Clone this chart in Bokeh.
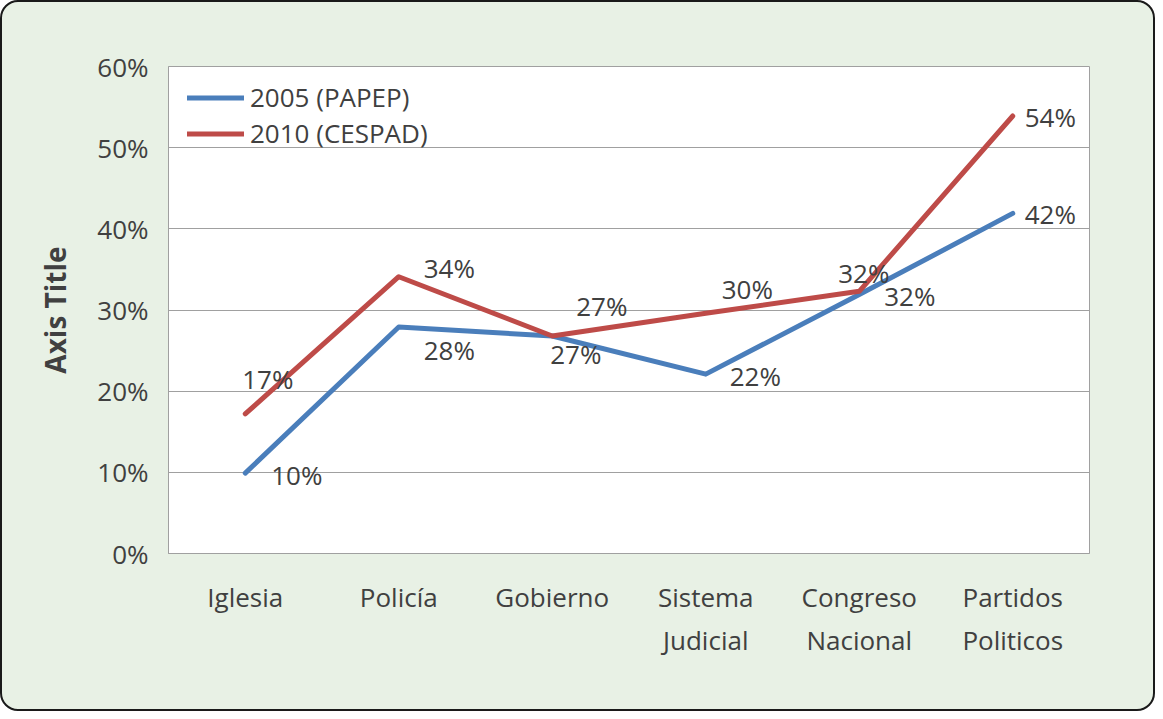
from bokeh.plotting import figure
from bokeh.models import (ColumnDataSource, FactorRange, Range1d, NumeralTickFormatter,
                          LabelSet, Legend, LegendItem, FixedTicker)
from bokeh.embed import file_html
from bokeh.resources import INLINE
from bokeh.core.properties import value

# ---- data ----
categories = ["Iglesia", "Policía", "Gobierno", "Sistema\nJudicial", "Congreso\nNacional", "Partidos\nPoliticos"]
series_names = ["2005 (PAPEP)", "2010 (CESPAD)"]
values_2005 = [0.099, 0.279, 0.268, 0.221, 0.319, 0.419]
values_2010 = [0.172, 0.341, 0.268, 0.296, 0.323, 0.539]
y_ticks = [0.0, 0.1, 0.2, 0.3, 0.4, 0.5, 0.6]

# ---- label placement (screen px, relative to point) ----
offsets_2005_x = [26, 25, -2, 24, 25, 12]
offsets_2005_y = [-2, -23, -18, -2, -1, -1]
offsets_2010_x = [-3, 25, 24, 16, -21, 12]
offsets_2010_y = [35, 9, 30, 24, 18, -1]

FONT = "Open Sans"
TEXT = "#404040"
GRID = "#A0A0A0"
BLUE = "#4A7EBB"
RED = "#BE4B48"

p = figure(x_range=FactorRange(*categories), y_range=Range1d(0, 0.6),
           width=1155, height=711, output_backend="svg", toolbar_location=None,
           min_border_left=166, min_border_right=68, min_border_top=64, min_border_bottom=160,
           background_fill_color="white", border_fill_color=None,
           outline_line_color=GRID)
p.styles = {"border": "2px solid #1a1a1a", "border-radius": "18px",
            "background-color": "#E8F1E5", "box-sizing": "border-box", "overflow": "hidden"}

src1 = ColumnDataSource(dict(x=categories, y=values_2005,
                             t=[f"{v*100:.0f}%" for v in values_2005],
                             dx=offsets_2005_x, dy=offsets_2005_y))
src2 = ColumnDataSource(dict(x=categories, y=values_2010,
                             t=[f"{v*100:.0f}%" for v in values_2010],
                             dx=offsets_2010_x, dy=offsets_2010_y))

r1 = p.line("x", "y", source=src1, line_color=BLUE, line_width=5, line_join="round", line_cap="round")
r2 = p.line("x", "y", source=src2, line_color=RED, line_width=5, line_join="round", line_cap="round")

for s in (src1, src2):
    p.add_layout(LabelSet(x="x", y="y", text="t", source=s, x_offset="dx", y_offset="dy",
                          text_align="left", text_baseline="middle",
                          text_font=value(FONT), text_font_size="26px", text_color=TEXT))

legend = Legend(items=[LegendItem(label=series_names[0], renderers=[r1]),
                       LegendItem(label=series_names[1], renderers=[r2])],
                location=(19, 402), margin=0, padding=0, spacing=0,
                glyph_width=57, glyph_height=33, label_height=33, label_standoff=6,
                label_text_font=FONT, label_text_font_size="26px", label_text_color=TEXT,
                label_text_line_height=0.9,
                border_line_color=None, background_fill_alpha=0)
p.add_layout(legend)

# axes
p.yaxis.ticker = FixedTicker(ticks=y_ticks)
p.yaxis.formatter = NumeralTickFormatter(format="0%")
p.yaxis.axis_label = "Axis Title"
p.yaxis.axis_label_text_font = FONT
p.yaxis.axis_label_text_font_style = "bold"
p.yaxis.axis_label_text_font_size = "28px"
p.yaxis.axis_label_text_color = TEXT
p.yaxis.axis_label_standoff = 20
p.yaxis.major_label_standoff = 20

for ax in (p.xaxis[0], p.yaxis[0]):
    ax.axis_line_color = GRID
    ax.major_tick_line_color = None
    ax.minor_tick_line_color = None
    ax.major_tick_out = 0
    ax.major_tick_in = 0
    ax.major_label_text_font = FONT
    ax.major_label_text_font_size = "26px"
    ax.major_label_text_color = TEXT

p.xaxis.major_label_standoff = 25
p.xaxis.major_label_text_line_height = 1.2

p.ygrid.grid_line_color = GRID
p.xgrid.grid_line_color = None

open("out.html", "w").write(file_html(p, INLINE))
